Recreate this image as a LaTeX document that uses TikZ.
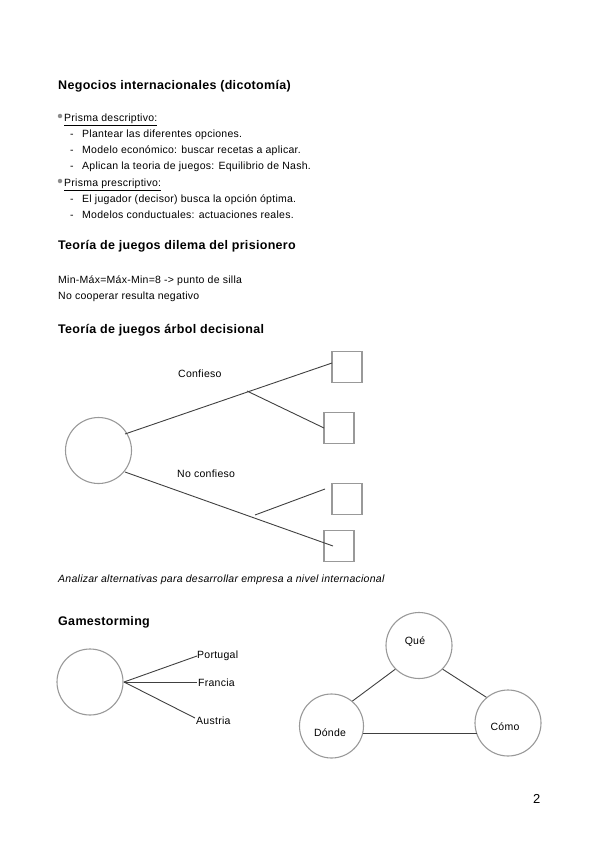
\documentclass[tikz,border=0pt]{standalone}
\usepackage{fontspec}
\setmainfont[LetterSpace=2.5]{Liberation Sans}
\begin{document}
\begin{tikzpicture}[x=1pt,y=-1pt,
  txt/.style={anchor=base west,inner sep=0pt,font=\fontsize{10.5}{12}\selectfont},
  hd/.style={anchor=base west,inner sep=0pt,font=\fontsize{12.5}{14}\selectfont\bfseries},
  ring/.style={circle,draw=black!40,line width=1.1pt,minimum size=#1,inner sep=0pt},
  box/.style={rectangle,draw=black!40,line width=1.1pt,minimum width=30pt,minimum height=31pt,inner sep=0pt},
  conn/.style={draw=black!75,line width=0.9pt},
  dot/.style={circle,fill=black!45,minimum size=4.5pt,inner sep=0pt}]
\useasboundingbox (0,0) rectangle (599,848);
% Section 1
\node[hd] (h1) at (58,90) {Negocios internacionales (dicotomía)};
\node[dot] (b1) at (60,116) {};
\node[txt] (p1) at (64,121.5) {\underline{Prisma descriptivo:}};
\node[txt] (d1) at (70,137.5) {-};
\node[txt] (l1) at (82,137.5) {Plantear las diferentes opciones.};
\node[txt] (d2) at (70,153.5) {-};
\node[txt] (l2) at (82,153.5) {Modelo económico: buscar recetas a aplicar.};
\node[txt] (d3) at (70,169.5) {-};
\node[txt] (l3) at (82,169.5) {Aplican la teoria de juegos: Equilibrio de Nash.};
\node[dot] (b2) at (60,181) {};
\node[txt] (p2) at (64,186.5) {\underline{Prisma prescriptivo:}};
\node[txt] (d4) at (70,202.5) {-};
\node[txt] (l4) at (82,202.5) {El jugador (decisor) busca la opción óptima.};
\node[txt] (d5) at (70,218.5) {-};
\node[txt] (l5) at (82,218.5) {Modelos conductuales: actuaciones reales.};
% Section 2
\node[hd] (h2) at (58,249) {Teoría de juegos dilema del prisionero};
\node[txt] (m1) at (58,283) {Min-Máx=Máx-Min=8 -> punto de silla};
\node[txt] (m2) at (58,299) {No cooperar resulta negativo};
% Section 3
\node[hd] (h3) at (58,333) {Teoría de juegos árbol decisional};
\node[ring=66pt] (root) at (98.5,450.5) {};
\node[box] (s1) at (347,367) {};
\node[box] (s2) at (339,428) {};
\node[box] (s3) at (347,499) {};
\node[box] (s4) at (339,546) {};
\coordinate (a0) at (125,434);
\coordinate (a1) at (332,363);
\coordinate (ab) at (247,391);
\coordinate (a2) at (324,428);
\coordinate (c0) at (125,472);
\coordinate (c1) at (333,546);
\coordinate (cb) at (255,515);
\coordinate (c2) at (325,489);
\draw[conn] (a0) -- (a1);
\draw[conn] (ab) -- (a2);
\draw[conn] (c0) -- (c1);
\draw[conn] (cb) -- (c2);
\node[txt] (conf) at (178,377) {Confieso};
\node[txt] (nconf) at (177,477) {No confieso};
\node[txt,font=\fontsize{10.5}{12}\selectfont\itshape] (an) at (58,582) {Analizar alternativas para desarrollar empresa a nivel internacional};
% Section 4
\node[hd] (h4) at (58,625) {Gamestorming};
\node[ring=66pt] (g) at (90,682) {};
\coordinate (g0) at (124,682);
\coordinate (gp) at (197,656);
\coordinate (gf) at (197,682);
\coordinate (ga) at (195,718);
\draw[conn] (g0) -- (gp);
\draw[conn] (g0) -- (gf);
\draw[conn] (g0) -- (ga);
\node[txt] (pt) at (197,658) {Portugal};
\node[txt] (fr) at (198,686) {Francia};
\node[txt] (au) at (196,724) {Austria};
\node[ring=66pt] (que) at (419,645.5) {};
\node[ring=64pt] (donde) at (331.5,726) {};
\node[ring=66pt] (como) at (508,723) {};
\node[txt,anchor=center] (tq) at (415,642) {Qué};
\node[txt,anchor=center] (td) at (330,733) {Dónde};
\node[txt,anchor=center] (tc) at (505,727) {Cómo};
\coordinate (dr) at (363,733);
\coordinate (cl) at (476.5,733);
\draw[conn] (que.225) -- (donde.50);
\draw[conn] (que.-45) -- (como.130);
\draw[conn] (dr) -- (cl);
% page number
\node[anchor=base west,inner sep=0pt,font=\fontsize{13}{15}\selectfont] (pg) at (533,803) {2};
\end{tikzpicture}
\end{document}
